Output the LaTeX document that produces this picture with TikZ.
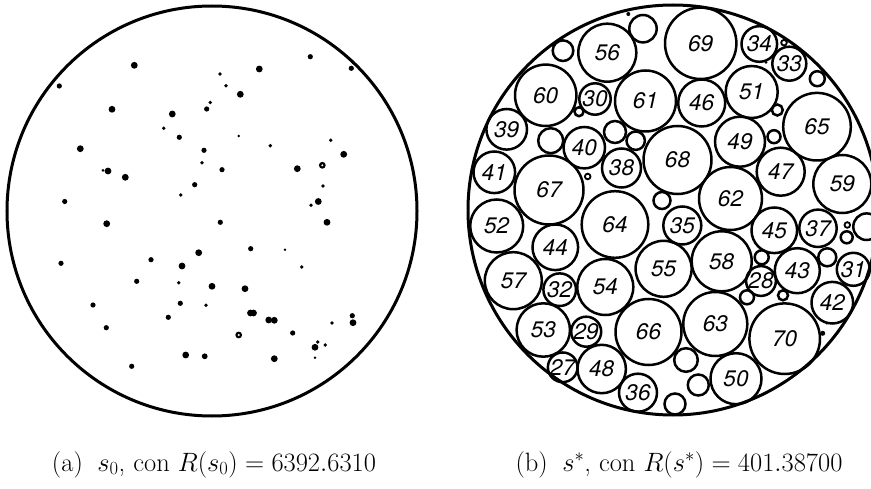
\RequirePackage{fix-cm}
\documentclass[tikz,border=0pt]{standalone}
\usepackage{fontspec}
\newfontfamily\numfont{TeX Gyre Heros}
\begin{document}
\begin{tikzpicture}[x=1pt,y=-1pt,
  outer/.style={line width=3pt},
  pk/.style={circle,draw,line width=2.5pt,inner sep=0pt,outer sep=0pt,
    font=\numfont\itshape\fontsize{22.5}{22.5}\selectfont},
  free/.style={line width=2.5pt},
  caption/.style={anchor=base,inner sep=0pt,font=\fontsize{26.5}{30}\selectfont}]
\useasboundingbox (0,0) rectangle (871,489);
\clip (0,0) rectangle (871,489);

% ---------- (a) initial configuration ----------
\coordinate (ca) at (212,211);
\draw[outer] (ca) circle[radius=205];
\foreach \x/\y/\r in {
  134.3/65.3/3.4, 59.3/86/2.6, 220/74/1.9, 210.3/102.5/1.9, 206.7/109/2.6,
  112/109.3/3.4, 172.3/114/3.4, 163.7/128.3/1.9, 179.3/137.3/2.6, 80.3/148.7/3.4,
  204/150.3/2.6, 202/162.8/1.9, 108/171/3.4, 103/170.3/1.5, 125.3/177.3/3.4,
  194.7/184.7/2.6, 180.7/195/1.9, 64.7/201.5/2.6, 222/169.7/2.6,
  310.3/56.7/2.6, 352.7/62/1.9, 351.3/68.3/2.6, 259.3/69/3.4, 226/85.7/1.9,
  240.3/94.3/3.4, 238.7/136/1.4, 270.3/145.7/1.9, 330.7/140.3/1.9, 343.7/154.3/3.4,
  297.3/168.7/3.4, 322.3/165.3/3.4, 323/186/1.9, 318.3/201.5/3.4, 311/205.3/1.9,
  106.7/223.7/3.4, 220.3/222.3/2.6, 198.7/252.7/3.4, 61/263.3/2.6, 151/259.7/2.6,
  182/266/3.4, 136.7/281.3/2.6, 178.7/282.7/1.9, 212/286.3/3.4, 93/305/2.6,
  180.3/303.3/2.6, 206/305.3/1.9, 168.3/317.3/2.6, 106.3/327.7/2.6, 185.7/355/3.4,
  204.7/356.3/2.9, 131.7/366.3/2.6,
  327/222.3/3.4, 250.7/248.7/2.6, 285/249.7/1.4, 301.7/267/1.9, 245/288.7/3.4,
  250.5/313/3.4, 253.5/313/3.4, 268.7/320/3.4, 274.3/320.3/3.4, 332/323/1.9,
  352.3/315.7/2.6, 353/322.7/3.4, 238.7/335/3.4, 292.7/333/2.6, 317.7/342/1.9,
  315/347.3/3.4, 325.3/345/1.9, 315/357.7/1.4, 274.3/358.7/3.4}
  \fill (\x,\y) circle[radius=\r];
% two of the particles show a hollow centre
\fill[white] (322.3,165.3) circle[radius=1.1];
\fill[white] (238.7,335) circle[radius=1.1];

% ---------- (b) optimised packing ----------
\coordinate (cb) at (673,210);
\draw[outer] (cb) circle[radius=205];
\foreach \x/\y/\r/\t in {
  607.3/52.7/29/56, 545.7/95.3/30.7/60, 595/99/15.7/30, 645.5/101/30.5/61,
  506.7/129.3/20.3/39, 584.3/147.7/20.7/40, 621.5/168/19.5/38, 494.3/172.3/20.8/41,
  549/190/34.5/67, 677.5/160/34/68, 700.7/43.3/35.7/69, 759.3/44/17.8/34,
  789.3/63.7/17/33, 701.7/103/23.5/46, 751.7/92/26/51, 817/126.7/33.8/65,
  740/141.7/25/49, 780.7/171.7/24/47, 842.3/184/29/59, 730.5/198.5/31.5/62,
  682.3/225.5/19/35, 774.3/230.3/22.8/45, 818/228.3/18.7/37, 721.7/261.3/30/58,
  663.6/268.8/28/55, 797.3/270.7/22.5/43, 853.3/269.3/16.5/31, 761/281/14/28,
  832.3/302.7/20.8/42, 715.3/324/32/63, 784.7/338.7/35.3/70, 736/378.7/25.5/50,
  496.7/226/26.5/52, 615/224.5/33.3/64, 555.3/247.3/22.8/44, 513.3/280.7/28.5/57,
  559.7/289.7/16.3/32, 605.3/287/28/54, 543.3/330/26.7/53, 586.2/331.7/15/29,
  648.5/332/33/66, 562.7/367.3/13.7/27, 601.7/369/24.2/48, 638/392.7/19/36}
  \node[pk,minimum size=2*\r] (c\t) at (\x,\y) {\t};
% unlabelled circles
\foreach \x/\y/\r in {
  563/50.7/10.3, 643/28.7/13.7, 579/111.7/4.5, 550.7/140.7/12.5, 615/132/11,
  635.7/140.7/9.2, 662/200.5/8.5, 817.3/78.7/7.5, 777.3/110/5.5, 774/136.7/6.5,
  846.7/237.3/6, 866.6/226.7/13.3, 761.7/257.3/7, 827.3/257.3/9, 747/297.3/7,
  783/295.3/5, 686/360/11.8, 698.3/385/10.5, 675/404/10.5}
  \draw[free] (\x,\y) circle[radius=\r];
% very small rings
\foreach \x/\y in {587.7/176.5, 784/42.7, 847.3/225}
  \draw[line width=1.8pt] (\x,\y) circle[radius=2.8];
% tiny filled circles
\foreach \x/\y/\r in {628.3/14/2, 766/62.3/1.5, 822.7/333.3/2.5, 826.7/323.3/1.3}
  \fill (\x,\y) circle[radius=\r];

% ---------- captions ----------
\node[caption] (capa) at (214,471) {(a)\hspace{0.55em}$s_0$, con $R(s_0) = 6392.6310$};
\node[caption] (capb) at (679,471) {(b)\hspace{0.55em}$s^{*}$, con $R(s^{*}) = 401.38700$};
\end{tikzpicture}
\end{document}
